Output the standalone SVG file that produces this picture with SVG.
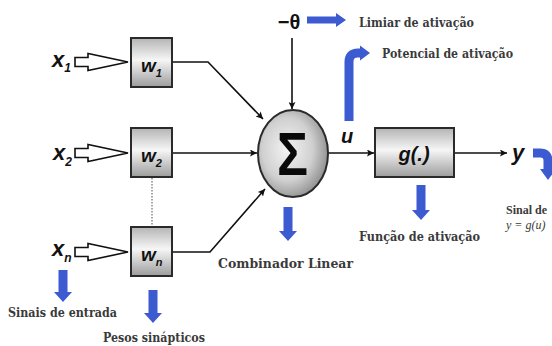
<svg xmlns="http://www.w3.org/2000/svg" width="552" height="346" viewBox="0 0 552 346">
<defs>
<linearGradient id="boxg" x1="0" y1="0" x2="0" y2="1">
<stop offset="0" stop-color="#b4b4b4"/>
<stop offset="0.45" stop-color="#f6f6f6"/>
<stop offset="1" stop-color="#9c9c9c"/>
</linearGradient>
<radialGradient id="circg" cx="0.42" cy="0.45" r="0.6">
<stop offset="0" stop-color="#f4f4f4"/>
<stop offset="0.6" stop-color="#d0d0d0"/>
<stop offset="1" stop-color="#8e8e8e"/>
</radialGradient>
<marker id="ah" viewBox="0 0 10 10" refX="10" refY="5" markerWidth="9" markerHeight="7" markerUnits="userSpaceOnUse" orient="auto">
<path d="M0,0 L10,5 L0,10 L2,5 z" fill="#111"/>
</marker>
<style>
.box{fill:url(#boxg);stroke:#2a2a2a;stroke-width:2}
.sym{font-family:"Liberation Sans",Arial,sans-serif;font-weight:bold;font-style:italic;fill:#111}
.lbl{font-family:"DejaVu Serif","Liberation Serif",serif;font-weight:bold;font-size:12px;fill:#3a3a3a}
.conn{fill:none;stroke:#111;stroke-width:1.6}
.inarrow{fill:#fff;stroke:#111;stroke-width:1.6;stroke-linejoin:miter}
.blue{fill:#3d5bd1}
.bluestroke{fill:none;stroke:#3d5bd1;stroke-width:9}
</style>
</defs>

<g id="connectors">
<polyline class="conn" points="172,62 208,62 263,119" marker-end="url(#ah)"/>
<line class="conn" x1="172" y1="153" x2="257" y2="153" marker-end="url(#ah)"/>
<polyline class="conn" points="172,252 210,252 265,189" marker-end="url(#ah)"/>
<line class="conn" x1="292" y1="38" x2="292" y2="109" marker-end="url(#ah)"/>
<line class="conn" x1="328" y1="153" x2="374" y2="153" marker-end="url(#ah)"/>
<line class="conn" x1="454" y1="153" x2="507" y2="153" marker-end="url(#ah)"/>
<line x1="152" y1="178" x2="152" y2="226" stroke="#888" stroke-width="1.5" stroke-dasharray="1.5,1.5"/>
</g>

<g id="input-x1">
<path class="inarrow" d="M75,57.5 H88 V53.5 L128,62 L88,70.5 V66.5 H75 Z"/>
<text class="sym" x="52" y="67" font-size="22">x<tspan font-size="12" dy="5">1</tspan></text>
</g>
<g id="input-x2">
<path class="inarrow" d="M75,148.5 H88 V144.5 L128,153 L88,161.5 V157.5 H75 Z"/>
<text class="sym" x="53" y="160" font-size="22">x<tspan font-size="12" dy="6">2</tspan></text>
</g>
<g id="input-xn">
<path class="inarrow" d="M75,247.5 H88 V243.5 L128,252 L88,260.5 V256.5 H75 Z"/>
<text class="sym" x="52" y="256" font-size="22">x<tspan font-size="12" dy="6">n</tspan></text>
</g>

<g id="w1">
<rect class="box" x="131" y="38" width="41" height="49"/>
<text class="sym" x="141" y="72" font-size="19">w<tspan font-size="11" dy="5">1</tspan></text>
</g>
<g id="w2">
<rect class="box" x="131" y="128" width="41" height="49"/>
<text class="sym" x="141" y="162" font-size="19">w<tspan font-size="11" dy="5">2</tspan></text>
</g>
<g id="wn">
<rect class="box" x="131" y="227" width="41" height="49"/>
<text class="sym" x="141" y="261" font-size="19">w<tspan font-size="11" dy="5">n</tspan></text>
</g>

<g id="theta">
<text x="289" y="29" font-family="'Liberation Sans',Arial,sans-serif" font-weight="bold" font-size="20" fill="#111" text-anchor="middle">−θ</text>
</g>

<g id="sum">
<ellipse cx="293" cy="153.5" rx="35" ry="43.5" fill="url(#circg)" stroke="#2a2a2a" stroke-width="2"/>
<text x="277" y="175" font-family="'Liberation Sans',Arial,sans-serif" font-weight="bold" font-size="62" fill="#0a0a0a" textLength="31" lengthAdjust="spacingAndGlyphs">Σ</text>
</g>

<g id="u-label">
<text class="sym" x="341" y="143" font-size="20">u</text>
</g>

<g id="g-func">
<rect class="box" x="375" y="128" width="79" height="49"/>
<text class="sym" x="414" y="161" font-size="20" text-anchor="middle">g(.)</text>
</g>

<g id="y-out">
<text class="sym" x="512" y="160" font-size="22">y</text>
</g>

<g id="label-limiar">
<path class="blue" d="M307,16.5 H336 V13 L346,20 L336,27 V23.5 H307 Z"/>
<text class="lbl" x="359" y="27" textLength="115" lengthAdjust="spacingAndGlyphs">Limiar de ativação</text>
</g>
<g id="label-potencial">
<path class="bluestroke" d="M349,121 V62 Q349,53 358,53 H361"/>
<path class="blue" d="M360,45.5 L370,53 L360,60.5 Z"/>
<text class="lbl" x="382" y="58" textLength="131" lengthAdjust="spacingAndGlyphs">Potencial de ativação</text>
</g>
<g id="label-saida">
<path class="bluestroke" d="M533,153 H540 Q548,153 548,161 V170"/>
<path class="blue" d="M540,169 H556 L548,180 Z"/>
<text x="506" y="214" font-family="'Liberation Serif','Times New Roman',serif" font-weight="bold" font-size="12" fill="#3a3a3a">Sinal de</text>
<text x="506" y="229" font-family="'Liberation Serif','Times New Roman',serif" font-style="italic" font-size="12" fill="#3a3a3a">y = g(u)</text>
</g>
<g id="label-funcao">
<path class="blue" d="M416.5,185 H425.5 V210 H430 L421,220 L412,210 H416.5 Z"/>
<text class="lbl" x="359" y="241" textLength="121" lengthAdjust="spacingAndGlyphs">Função de ativação</text>
</g>
<g id="label-combinador">
<path class="blue" d="M283.5,207 H292.5 V231 H297 L288,241 L279,231 H283.5 Z"/>
<text class="lbl" x="218" y="268" textLength="135" lengthAdjust="spacingAndGlyphs">Combinador Linear</text>
</g>
<g id="label-sinais">
<path class="blue" d="M58.5,270 H67.5 V292 H72 L63,302 L54,292 H58.5 Z"/>
<text class="lbl" x="8" y="317" textLength="109" lengthAdjust="spacingAndGlyphs">Sinais de entrada</text>
</g>
<g id="label-pesos">
<path class="blue" d="M148.5,290 H157.5 V313 H162 L153,323 L144,313 H148.5 Z"/>
<text class="lbl" x="103" y="342" textLength="102" lengthAdjust="spacingAndGlyphs">Pesos sinápticos</text>
</g>
</svg>
